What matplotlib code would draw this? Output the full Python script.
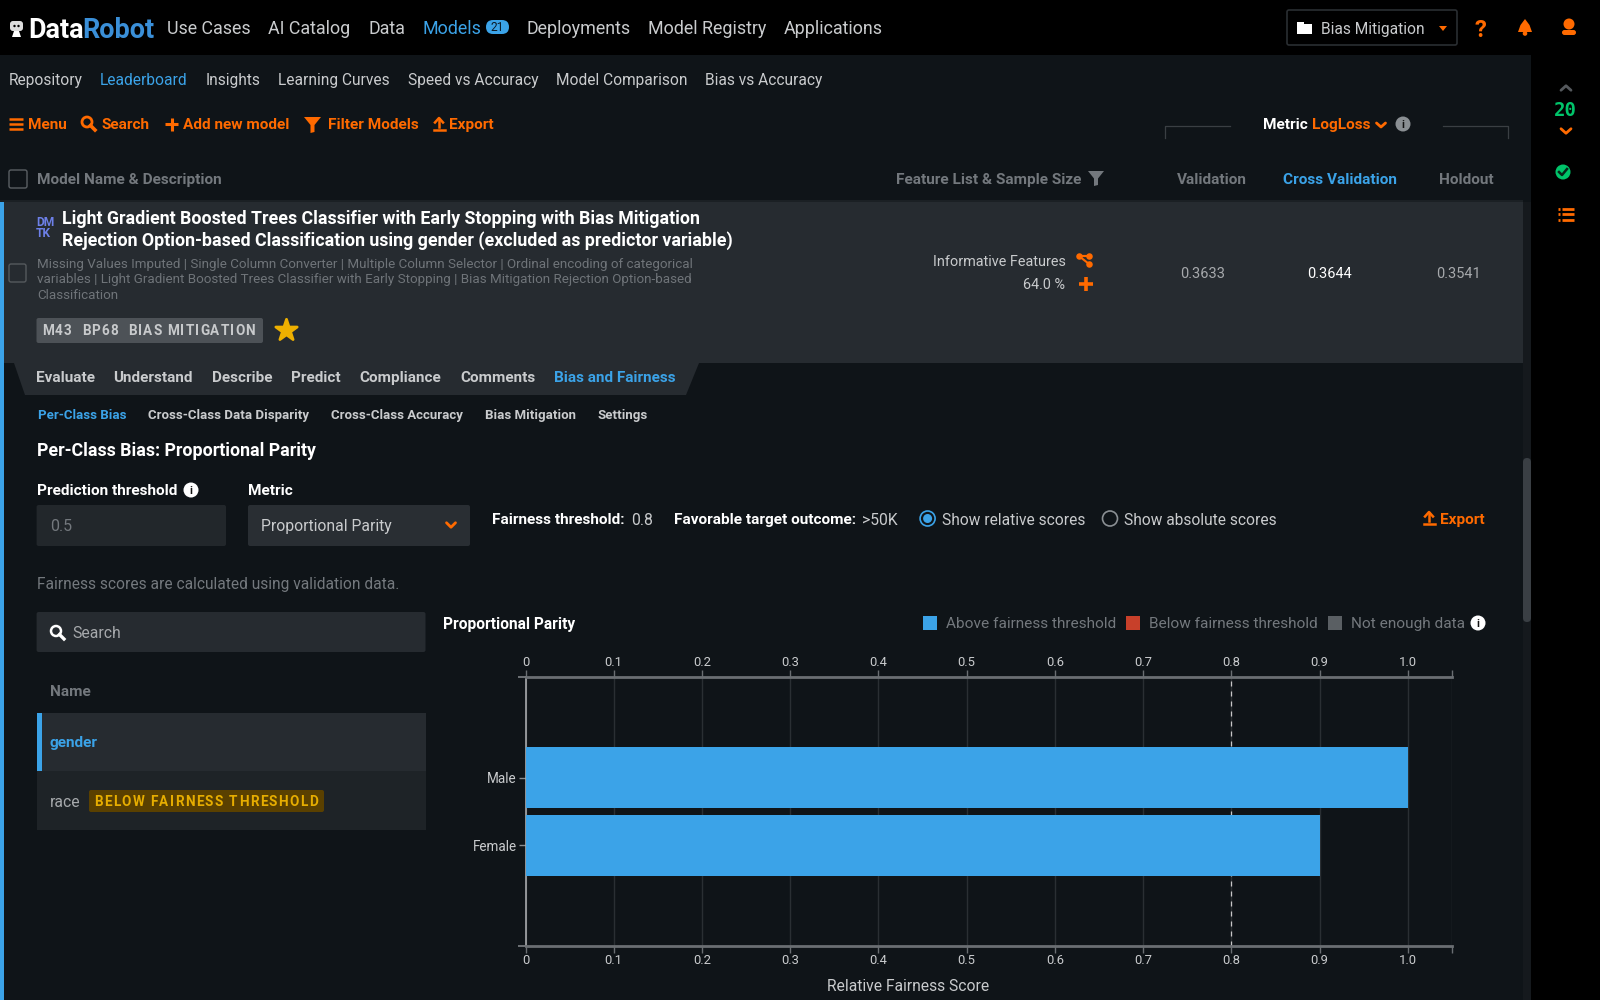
import matplotlib
matplotlib.use("Agg")
import matplotlib.pyplot as plt
from matplotlib.patches import Rectangle, Polygon, Circle, FancyBboxPatch
from matplotlib.font_manager import FontProperties, findfont, get_font

plt.rcParams['font.family'] = ['Roboto', 'DejaVu Sans']

# chart data
categories = ["Male", "Female"]
scores = [1.0, 0.9]
fairness_threshold = 0.8
x_ticks = [0, 0.1, 0.2, 0.3, 0.4, 0.5, 0.6, 0.7, 0.8, 0.9, 1.0]
x_tick_labels = ["0", "0.1", "0.2", "0.3", "0.4", "0.5", "0.6", "0.7", "0.8", "0.9", "1.0"]

# page text
top_nav = [("Use Cases", 167), ("AI Catalog", 268), ("Data", 368), ("Deployments", 526),
           ("Model Registry", 648), ("Applications", 784)]
sub_nav = [("Repository", 9), ("Leaderboard", 100), ("Insights", 206), ("Learning Curves", 278),
           ("Speed vs Accuracy", 408), ("Model Comparison", 556), ("Bias vs Accuracy", 705)]
actions = [("Menu", 28), ("Search", 102), ("Add new model", 183), ("Filter Models", 328), ("Export", 449)]
model_tabs = [("Evaluate", 36), ("Understand", 113), ("Describe", 212), ("Predict", 291),
              ("Compliance", 359), ("Comments", 460)]
bias_tabs = [("Cross-Class Data Disparity", 148), ("Cross-Class Accuracy", 331),
             ("Bias Mitigation", 485), ("Settings", 598)]
desc_lines = ["Missing Values Imputed | Single Column Converter | Multiple Column Selector | Ordinal encoding of categorical",
              "variables | Light Gradient Boosted Trees Classifier with Early Stopping | Bias Mitigation Rejection Option-based",
              "Classification"]

BG = "#0f1418"
PANEL = "#262b30"
ORANGE = "#ff6a00"
BLUE = "#3ba3e8"
GREY = "#73787d"
LIGHT = "#c9cbcd"

fig = plt.figure(figsize=(16, 10), dpi=100, facecolor=BG)

# full page layer in pixel coordinates for the UI around the chart
ui = fig.add_axes([0, 0, 1, 1], zorder=0)
ui.set_xlim(0, 1600)
ui.set_ylim(1000, 0)
ui.axis("off")


def px(size):
    return size * 72 / 100


def txt(x, y, s, size=15.5, color=LIGHT, weight="normal", ha="left", **kw):
    # y is the middle of the capitals, so a row of text shares one baseline
    return ui.text(x, y + size * 0.355, s, fontsize=px(size), color=color, fontweight=weight, ha=ha,
                   va="baseline", **kw)


def rect(x0, y0, x1, y1, color, **kw):
    ui.add_patch(Rectangle((x0, y0), x1 - x0, y1 - y0, facecolor=color, edgecolor="none", **kw))


def box(x0, y0, x1, y1, color, edge="none", lw=1.0, r=2):
    ui.add_patch(FancyBboxPatch((x0, y0), x1 - x0, y1 - y0, boxstyle=f"round,pad=0,rounding_size={r}",
                                facecolor=color, edgecolor=edge, linewidth=lw))


def spaced(x, y, s, size, color, track):
    # letter spaced label, one glyph at a time
    font = get_font(findfont(FontProperties(family="Roboto", weight="bold")))
    font.set_size(px(size), 100)
    for ch in s:
        if ch != " ":
            txt(x, y, ch, size, color, "bold")
        x += font.load_char(ord(ch)).linearHoriAdvance / 65536 + track


def info(x, y, face="white", fg="#111111", r=7.5):
    ui.add_patch(Circle((x, y), r, facecolor=face, edgecolor="none"))
    txt(x, y, "i", 11, fg, "bold", ha="center")


def chevron(x, y, w, h, color, up=False, lw=2):
    d = -h if up else h
    ui.plot([x - w, x, x + w], [y - d / 2, y + d / 2, y - d / 2], color=color, lw=lw, solid_capstyle="round")


def search_icon(x, y, color, lw=2):
    ui.add_patch(Circle((x, y), 5, facecolor="none", edgecolor=color, linewidth=lw))
    ui.plot([x + 3.5, x + 8], [y + 3.5, y + 8], color=color, lw=lw + 0.6)


def funnel(x0, x1, y0, y1, color):
    m = (x0 + x1) / 2
    ui.add_patch(Polygon([(x0, y0), (x1, y0), (m + 2, y0 + (y1 - y0) * 0.5), (m + 2, y1 - 1),
                          (m - 2, y1), (m - 2, y0 + (y1 - y0) * 0.5)], facecolor=color))


def export_icon(x, y, color):
    ui.plot([x, x], [y - 5, y + 3], color=color, lw=1.8)
    ui.plot([x - 4, x, x + 4], [y - 1.5, y - 6, y - 1.5], color=color, lw=1.8)
    ui.plot([x - 5.5, x + 5.5], [y + 6, y + 6], color=color, lw=1.8)


def plus(x, y, r, color, lw=3):
    ui.plot([x - r, x + r], [y, y], color=color, lw=lw, solid_capstyle="butt")
    ui.plot([x, x], [y - r, y + r], color=color, lw=lw, solid_capstyle="butt")


# page backgrounds
rect(0, 0, 1600, 55, "#000000")
rect(1531, 0, 1600, 1000, "#000000")
rect(0, 202, 1523, 363, PANEL)
rect(0, 200, 1523, 202, "#1b2024")
rect(0, 202, 4, 1000, BLUE)
rect(1523, 202, 1531, 1000, "#15191d")
box(1523, 458, 1531, 622, "#3a3f44", r=4)
ui.add_patch(Polygon([(14, 363), (25, 395), (686, 395), (699, 363)], facecolor=PANEL, edgecolor="none"))

# top bar
box(10, 21, 23, 31, "#dddddd", r=3)
ui.add_patch(Polygon([(12, 37), (14, 31), (19, 31), (21, 37)], facecolor="white"))
ui.add_patch(Circle((14.5, 26), 1.2, facecolor="#000000"))
ui.add_patch(Circle((18.5, 26), 1.2, facecolor="#000000"))
txt(28, 28, "Data", 27, "white", "bold")
txt(82.5, 28, "Robot", 27, "#3a8fd8", "bold")
for s, x in top_nav:
    txt(x, 28, s, 17.9, LIGHT)
txt(423, 28, "Models", 17.9, BLUE)
box(486, 20, 509, 34, BLUE, r=7)
txt(497.5, 27, "21", 12, "#0b1a26", ha="center")
box(1287, 10, 1457, 45, "#000000", edge="#2a2e32", lw=1.2)
rect(1297, 24, 1312, 34, "white")
rect(1297, 22, 1304, 25, "white")
txt(1321, 28, "Bias Mitigation", 15.5, LIGHT)
ui.add_patch(Polygon([(1439, 26), (1447, 26), (1443, 31)], facecolor=ORANGE))
txt(1480, 28, "?", 24, ORANGE, "bold", ha="center")
ui.add_patch(Polygon([(1518, 32), (1520.5, 25), (1525, 19), (1529.5, 25), (1532, 32)], facecolor=ORANGE))
ui.add_patch(Circle((1525, 33.5), 2.3, facecolor=ORANGE))
ui.add_patch(Circle((1569, 24), 5.5, facecolor=ORANGE))
box(1562, 30, 1576, 35, ORANGE, r=2.5)

# sub navigation
for s, x in sub_nav:
    txt(x, 79, s, 15.5, BLUE if s == "Leaderboard" else LIGHT)

# action row
for s, x in actions:
    txt(x, 124, s, 15.4, ORANGE, "bold")
for yy in (119, 124, 129):
    ui.plot([9, 23], [yy, yy], color=ORANGE, lw=1.8, solid_capstyle="butt")
search_icon(87, 122, ORANGE)
plus(171.5, 124, 6.5, ORANGE, 2.2)
funnel(304, 321, 117, 133, ORANGE)
export_icon(439, 124, ORANGE)

# metric selector
txt(1263, 124, "Metric", 15.4, "white", "bold")
txt(1312, 124, "LogLoss", 15.4, ORANGE, "bold")
chevron(1381, 125, 4.5, 4, ORANGE)
info(1403, 124, face="#8a8f93", fg="#111111")
ui.plot([1165, 1165, 1230], [138, 125.5, 125.5], color="#3a3f43", lw=0.9)
ui.plot([1443, 1508, 1508], [125.5, 125.5, 138], color="#3a3f43", lw=0.9)

# table header
box(9, 170, 27, 188, "none", edge="#5a5f63", lw=1)
txt(37, 179, "Model Name & Description", 15.4, GREY, "bold")
txt(896, 179, "Feature List & Sample Size", 15.4, GREY, "bold")
funnel(1088, 1104, 171, 186, GREY)
txt(1177, 179, "Validation", 15.4, GREY, "bold")
txt(1283, 179, "Cross Validation", 15.4, BLUE, "bold")
txt(1439, 179, "Holdout", 15.4, GREY, "bold")

# right sidebar
chevron(1566, 88, 5, 4.5, "#55595d", up=True)
txt(1565.5, 109, "20", 19, "#00c46a", "bold", family="DejaVu Sans Mono", ha="center")
chevron(1566, 131, 5, 4.5, ORANGE)
ui.add_patch(Circle((1563, 172), 7.5, facecolor="#00c46a"))
ui.plot([1559, 1562, 1567], [172, 175, 169], color="#08261a", lw=1.8)
for yy in (208.5, 214, 219.5):
    ui.plot([1558, 1560], [yy, yy], color=ORANGE, lw=2, solid_capstyle="butt")
    ui.plot([1562, 1574], [yy, yy], color=ORANGE, lw=2, solid_capstyle="butt")

# model row
txt(36, 222, "DM", 12, "#6d80e8", "bold")
txt(36, 233, "TK", 12, "#6d80e8", "bold")
txt(62, 218, "Light Gradient Boosted Trees Classifier with Early Stopping with Bias Mitigation", 17.75, "white", "bold")
txt(62, 240, "Rejection Option-based Classification using gender (excluded as predictor variable)", 17.75, "white", "bold")
for i, line in enumerate(desc_lines):
    txt(37, 263 + i * 15.7, line, 13.4, "#6f7479")
box(9, 264, 26, 282, "none", edge="#55595d", lw=1)
box(36.5, 318, 263, 343, "#4d5257")
spaced(42, 330, "M43  BP68  BIAS MITIGATION", 13.5, "#c8cacc", 1.15)
ui.scatter([286], [330], marker="*", s=260, color="#eeb000", edgecolors="#eeb000", linewidths=2)
txt(1066, 260.5, "Informative Features", 14.4, LIGHT, ha="right")
txt(1065, 284, "64.0 %", 14.4, LIGHT, ha="right")
ui.plot([1079, 1089, 1079, 1089], [256, 256, 256, 264], color=ORANGE, lw=1.5)
ui.scatter([1079, 1089, 1089], [256, 256, 264], s=22, color=ORANGE, linewidths=0)
plus(1086, 284, 7, ORANGE, 2.6)
txt(1203, 273, "0.3633", 14.5, "#a6a9ac", ha="center")
txt(1330, 273, "0.3644", 14.5, "white", ha="center")
txt(1458, 273, "0.3541", 14.5, "#a6a9ac", ha="center")

# tabs
for s, x in model_tabs:
    txt(x, 376.5, s, 15.3, LIGHT, "bold")
txt(554, 376.5, "Bias and Fairness", 15.3, BLUE, "bold")
txt(38, 414, "Per-Class Bias", 13.3, BLUE, "bold")
for s, x in bias_tabs:
    txt(x, 414, s, 13.3, LIGHT, "bold")

# controls
txt(36.6, 450, "Per-Class Bias: Proportional Parity", 17.7, "white", "bold")
txt(36.6, 490, "Prediction threshold", 15.4, "white", "bold")
info(191, 490)
txt(248, 490, "Metric", 15.4, "white", "bold")
box(36.6, 505, 226, 546, "#22272b")
txt(50, 525, "0.5", 16, GREY)
box(248, 505, 470, 546, "#292e33")
txt(261, 525, "Proportional Parity", 15.7, LIGHT)
chevron(451, 525, 4.5, 4.5, ORANGE)
txt(492, 519, "Fairness threshold:", 15.4, "white", "bold")
txt(631, 519, "0.8", 15.7, LIGHT)
txt(674.5, 519, "Favorable target outcome:", 15.4, "white", "bold")
txt(862, 519, ">50K", 15.7, LIGHT)
ui.add_patch(Circle((927.6, 518.5), 7.5, facecolor="none", edgecolor=BLUE, linewidth=1.2))
ui.add_patch(Circle((927.6, 518.5), 4.5, facecolor=BLUE))
txt(942, 519, "Show relative scores", 15.5, LIGHT)
ui.add_patch(Circle((1110, 518.5), 7.5, facecolor="none", edgecolor="#8a8f93", linewidth=1.2))
txt(1124.5, 519, "Show absolute scores", 15.5, LIGHT)
export_icon(1429, 518, ORANGE)
txt(1440, 519, "Export", 15.4, ORANGE, "bold")
txt(36.6, 583, "Fairness scores are calculated using validation data.", 15.55, GREY)

# feature list
box(36.6, 612, 425.5, 652, PANEL)
search_icon(56, 631, "white", lw=1.8)
txt(72, 632, "Search", 15.7, "#a6a9ac")
txt(50, 691, "Name", 15.4, GREY, "bold")
rect(36.6, 713, 425.5, 771, PANEL)
rect(36.6, 713, 41.5, 771, BLUE)
txt(50, 742, "gender", 15.4, BLUE, "bold")
rect(36.6, 771, 425.5, 830, "#1e2327")
txt(50, 801, "race", 15.7, "#a6a9ac")
box(89, 790, 324, 812, "#5a4000")
spaced(94, 801, "BELOW FAIRNESS THRESHOLD", 13.5, "#e6ad00", 1.4)

# chart heading and legend
txt(443, 623, "Proportional Parity", 15.5, "white", "bold")
for x, c, s in [(923, BLUE, "Above fairness threshold"), (1126, "#c8402a", "Below fairness threshold"),
                (1328, "#5a5f63", "Not enough data")]:
    rect(x, 616, x + 14, 630, c)
    txt(x + 23, 623, s, 15.45, GREY)
info(1478, 623)
txt(908.5, 985, "Relative Fairness Score", 15.6, LIGHT, ha="center")

# the chart itself
ax = fig.add_axes([525.5 / 1600, 1 - 946 / 1000, (1452 - 525.5) / 1600, (946 - 677) / 1000], zorder=1)
ax.patch.set_alpha(0)
ax.barh(range(len(categories)), scores, height=0.91, color=BLUE, zorder=3)
ax.axvline(fairness_threshold, color="#c8c8c8", lw=0.9, ls=(0, (4, 4)), zorder=2)
ax.set_xlim(0, 1.05)
ax.set_ylim(2.5, -1.5)
ax.set_xticks(x_ticks + [1.05], x_tick_labels + [""])
ax.set_yticks(range(len(categories)), categories)
ax.tick_params(axis="x", which="both", bottom=True, top=True, labelbottom=True, labeltop=True,
               color="#6a6e72", labelcolor=LIGHT, labelsize=px(13), length=5, width=1, pad=1)
ax.tick_params(axis="y", color="#8a8d90", labelcolor=LIGHT, labelsize=px(13.5), length=5, width=1, pad=1.3)
ax.grid(axis="x", color="#2a2f33", lw=1, zorder=1)
ax.set_axisbelow(True)
for name, sp in ax.spines.items():
    sp.set_color("#6a6e72")
    sp.set_linewidth(2 if name in ("top", "bottom") else 0)
ax.spines["left"].set_color("#a8aaac")
ax.spines["left"].set_linewidth(1.2)
ax.spines["right"].set_visible(False)

# axis rules stick out a little to the left of zero
rect(518, 676, 526, 678, "#6a6e72")
rect(518, 945, 526, 947, "#6a6e72")

fig.savefig("out.png", dpi=100, facecolor=BG)
